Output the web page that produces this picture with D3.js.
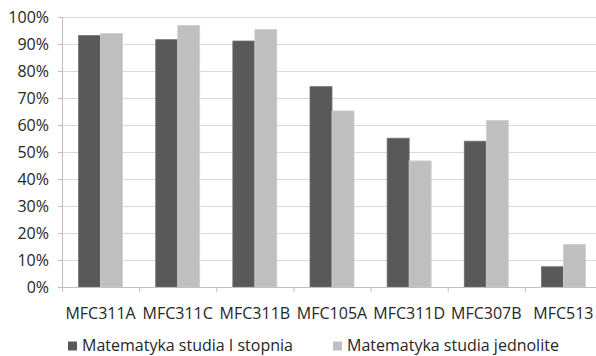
<!DOCTYPE html>
<html><head><meta charset="utf-8">
<script src="https://cdn.jsdelivr.net/npm/d3@7"></script>
<style>body{margin:0;background:#fff}svg{display:block}text{font-family:"Open Sans",sans-serif;fill:#262626}</style>
</head><body><svg id="c" width="596" height="356"></svg>
<script>
const categories = ["MFC311A","MFC311C","MFC311B","MFC105A","MFC311D","MFC307B","MFC513"];
const seriesNames = ["Matematyka studia I stopnia","Matematyka studia jednolite"];
const series1 = [0.931,0.916,0.911,0.742,0.551,0.540,0.075];
const series2 = [0.939,0.969,0.954,0.652,0.467,0.617,0.158];
const yTicks = [0,0.1,0.2,0.3,0.4,0.5,0.6,0.7,0.8,0.9,1.0];
const colors = ["#595959","#bfbfbf"];

const svg = d3.select("#c");
const x = d3.scaleBand().domain(categories).range([62,602]).paddingInner(0).paddingOuter(0);
const y = d3.scaleLinear().domain([0,1]).range([287,17]);
const sub = d3.scaleBand().domain([0,1]).range([0,44]);
const fmt = d3.format(".0%");
const FF = "'Open Sans',sans-serif";
const FS = "16px";

// gridlines
svg.append("g").selectAll("line").data(yTicks.slice(1)).join("line")
  .attr("x1",62).attr("x2",602).attr("y1",d=>y(d)+0.5).attr("y2",d=>y(d)+0.5)
  .attr("stroke","#d9d9d9").attr("stroke-width",1);

// y labels
const ya = svg.append("g").attr("transform","translate(62,0)")
  .call(d3.axisLeft(y).tickValues(yTicks).tickFormat(fmt).tickSize(4).tickPadding(9));
ya.select(".domain").remove();
ya.selectAll("line").attr("stroke","#bfbfbf");
ya.selectAll("text").style("font-size",FS).attr("fill","#262626").attr("dy","0.35em").style("font-family",FF);
svg.append("line").attr("x1",62.5).attr("x2",62.5).attr("y1",17).attr("y2",287).attr("stroke","#bfbfbf");

// bars
const data = categories.map((c,i)=>({c,v:[series1[i],series2[i]]}));
const g = svg.append("g").selectAll("g").data(data).join("g")
  .attr("transform",d=>`translate(${x(d.c)+(x.bandwidth()-44)/2},0)`);
g.selectAll("rect").data(d=>d.v.map((v,k)=>({v,k}))).join("rect")
  .attr("x",d=>sub(d.k)).attr("width",sub.bandwidth())
  .attr("y",d=>y(d.v)).attr("height",d=>y(0)-y(d.v))
  .attr("fill",d=>colors[d.k]).attr("stroke",d=>d.k?"#d0d0d0":"#707070").attr("stroke-width",0.8);

// x axis
const xa = svg.append("g").attr("transform","translate(0,287)")
  .call(d3.axisBottom(x).tickSize(0).tickPadding(21));
xa.select(".domain").attr("stroke","#bfbfbf");
xa.selectAll("text").style("font-size",FS).attr("fill","#262626").style("font-family",FF);
// boundary ticks
svg.append("g").selectAll("line").data(categories).join("line")
  .attr("x1",d=>x(d)+0.5).attr("x2",d=>x(d)+0.5).attr("y1",287).attr("y2",292).attr("stroke","#bfbfbf");

// legend
const lx = [68,333];
const lg = svg.append("g").selectAll("g").data(seriesNames).join("g")
  .attr("transform",(d,i)=>`translate(${lx[i]},345.5)`);
lg.append("rect").attr("x",0).attr("y",-4).attr("width",9).attr("height",9).attr("fill",(d,i)=>colors[i]);
lg.append("text").attr("x",14).attr("dy","0.35em").style("font-size",FS).text(d=>d);
</script></body></html>
